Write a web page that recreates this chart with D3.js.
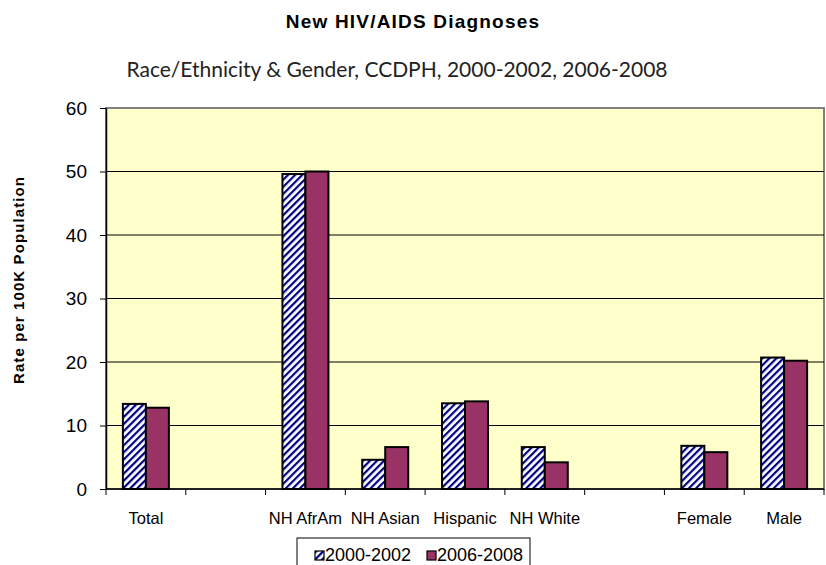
<!DOCTYPE html>
<html>
<head>
<meta charset="utf-8">
<script src="https://cdn.jsdelivr.net/npm/d3@7"></script>
<style>
  body { margin: 0; background: #fff; }
  svg { display: block; }
</style>
</head>
<body>
<div id="chart"></div>
<script>
// data
var categories = ["Total", "", "NH AfrAm", "NH Asian", "Hispanic", "NH White", " ", "Female", "Male"];
var series = ["2000-2002", "2006-2008"];
var values2000 = [13.4, null, 49.6, 4.6, 13.5, 6.6, null, 6.8, 20.7];
var values2006 = [12.8, null, 50.0, 6.6, 13.8, 4.2, null, 5.8, 20.2];
var yTicks = [0, 10, 20, 30, 40, 50, 60];

var W = 826, H = 565;
var margin = { top: 108, right: 2, bottom: 76, left: 106 },
    width = W - margin.left - margin.right,
    height = H - margin.top - margin.bottom;

var arial = "Arial, 'Liberation Sans', sans-serif";

var svg = d3.select("#chart")
    .append("svg")
    .attr("width", W)
    .attr("height", H);

// hatch pattern for first series
var defs = svg.append("defs");
var pat = defs.append("pattern")
    .attr("id", "hatch")
    .attr("patternUnits", "userSpaceOnUse")
    .attr("width", 5)
    .attr("height", 5)
    .attr("patternTransform", "rotate(45)");
pat.append("rect").attr("width", 5).attr("height", 5).attr("fill", "#fff");
pat.append("rect").attr("x", 0).attr("y", 0).attr("width", 2.2).attr("height", 5).attr("fill", "#000080");

// titles
svg.append("text")
    .attr("x", 413).attr("y", 28)
    .attr("text-anchor", "middle")
    .style("font-family", arial)
    .style("font-weight", "bold")
    .style("font-size", "19px")
    .style("letter-spacing", "1.2px")
    .text("New HIV/AIDS Diagnoses");

svg.append("text")
    .attr("x", 397).attr("y", 77)
    .attr("text-anchor", "middle")
    .style("font-family", "Lato, 'Open Sans', sans-serif")
    .style("font-size", "21px")
    .style("fill", "#222")
    .text("Race/Ethnicity & Gender, CCDPH, 2000-2002, 2006-2008");

var g = svg.append("g")
    .attr("transform", "translate(" + margin.left + "," + margin.top + ")");

var x = d3.scaleBand()
    .domain(d3.range(categories.length))
    .range([0, width]);

var y = d3.scaleLinear()
    .domain([0, 60])
    .range([height, 0]);

// plot background
g.append("rect")
    .attr("width", width).attr("height", height)
    .attr("fill", "#FFFFCC")
    .attr("stroke", "#808080")
    .attr("stroke-width", 2);

// gridlines
g.selectAll(".grid")
    .data(yTicks.filter(d => d > 0 && d < 60))
    .enter().append("line")
    .attr("x1", 0).attr("x2", width)
    .attr("y1", d => y(d)).attr("y2", d => y(d))
    .attr("stroke", "#000")
    .attr("stroke-width", 1);

// bars
var inner = 23;
var groupW = inner * 2;
var data = [];
categories.forEach(function(c, i) {
    if (values2000[i] != null) data.push({ i: i, s: 0, v: values2000[i] });
    if (values2006[i] != null) data.push({ i: i, s: 1, v: values2006[i] });
});

g.selectAll(".bar")
    .data(data)
    .enter().append("rect")
    .attr("class", "bar")
    .attr("x", d => x(d.i) + (x.bandwidth() - groupW) / 2 + d.s * inner)
    .attr("y", d => y(d.v))
    .attr("width", inner)
    .attr("height", d => y(0) - y(d.v))
    .attr("fill", d => d.s === 0 ? "url(#hatch)" : "#993366")
    .attr("stroke", "#000")
    .attr("stroke-width", 2);

// y axis
var yAxis = g.append("g")
    .call(d3.axisLeft(y).tickValues(yTicks).tickSize(6).tickSizeOuter(0).tickPadding(13));
yAxis.select(".domain").attr("stroke", "#000").attr("stroke-width", 1.5);
yAxis.selectAll(".tick line").attr("stroke", "#000");
yAxis.selectAll("text")
    .style("font-family", arial)
    .style("font-size", "19px")
    .attr("fill", "#000");

// x axis
var xAxisG = g.append("g").attr("transform", "translate(0," + height + ")");
xAxisG.append("line")
    .attr("x1", 0).attr("x2", width)
    .attr("stroke", "#000").attr("stroke-width", 1.5);
xAxisG.selectAll(".xt")
    .data(d3.range(categories.length + 1))
    .enter().append("line")
    .attr("x1", d => d * x.step()).attr("x2", d => d * x.step())
    .attr("y1", 0).attr("y2", 6)
    .attr("stroke", "#000");
xAxisG.selectAll(".xl")
    .data(categories)
    .enter().append("text")
    .attr("x", (d, i) => x(i) + x.bandwidth() / 2)
    .attr("y", 35)
    .attr("text-anchor", "middle")
    .style("font-family", arial)
    .style("font-size", "16.5px")
    .text(d => d.trim());

// y axis title
svg.append("text")
    .attr("transform", "translate(24,280) rotate(-90)")
    .attr("text-anchor", "middle")
    .style("font-family", arial)
    .style("font-weight", "bold")
    .style("font-size", "15px")
    .style("letter-spacing", "1.1px")
    .text("Rate per 100K Population");

// legend
var lg = svg.append("g").attr("transform", "translate(297,538)");
lg.append("rect")
    .attr("width", 233).attr("height", 32)
    .attr("fill", "#fff")
    .attr("stroke", "#000")
    .attr("stroke-width", 1);
var items = lg.selectAll(".li")
    .data(series)
    .enter().append("g")
    .attr("transform", (d, i) => "translate(" + (18 + i * 112) + ",13)");
items.append("rect")
    .attr("width", 9).attr("height", 9)
    .attr("fill", (d, i) => i === 0 ? "url(#hatch)" : "#993366")
    .attr("stroke", "#000")
    .attr("stroke-width", 1.2);
items.append("text")
    .attr("x", 10).attr("y", 10)
    .style("font-family", arial)
    .style("font-size", "18px")
    .text(d => d);
</script>
</body>
</html>
